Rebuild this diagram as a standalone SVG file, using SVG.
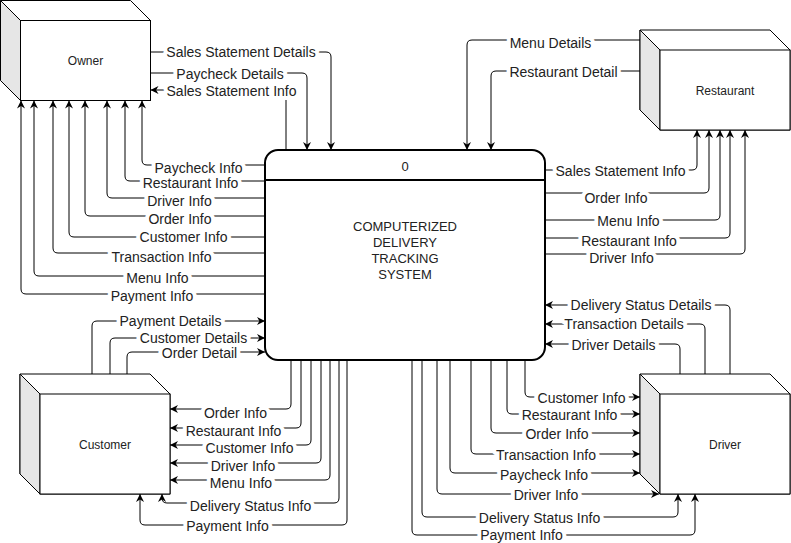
<svg xmlns="http://www.w3.org/2000/svg" width="791" height="543" viewBox="0 0 791 543">
<style>
.face{fill:#fff;stroke:#000;stroke-width:1}
.side{fill:#e6e6e6;stroke:#000;stroke-width:1}
.nl{font-family:"Liberation Sans",Arial,sans-serif;font-size:12px;fill:#222;text-anchor:middle}
.pl{font-family:"Liberation Sans",Arial,sans-serif;font-size:13px;fill:#222;text-anchor:middle}
.e{fill:none;stroke:#000;stroke-width:1;marker-end:url(#arr)}
.el{font-family:"Liberation Sans",Arial,sans-serif;font-size:14px;fill:#222;text-anchor:middle;paint-order:stroke;stroke:#fff;stroke-width:8px;stroke-linejoin:round}
</style>
<defs>
<marker id="arr" viewBox="0 0 10 10" refX="10" refY="5" markerWidth="8" markerHeight="8" markerUnits="userSpaceOnUse" orient="auto">
<path d="M0,0 L10,5 L0,10 L3,5 z" fill="#000"/>
</marker>
<g id="cube100">
<polygon class="face" points="0,0 130,0 150,20 150,100 20,100 0,80"/>
<polygon class="side" points="0,0 20,20 20,100 0,80"/>
<rect class="face" x="20" y="20" width="130" height="80"/>
</g>
<g id="cube120">
<polygon class="face" points="0,0 130,0 150,20 150,120 20,120 0,100"/>
<polygon class="side" points="0,0 20,20 20,120 0,100"/>
<rect class="face" x="20" y="20" width="130" height="100"/>
</g>
</defs>
<rect width="791" height="543" fill="#fff"/>

<g id="connectors">
<!-- Owner <-> process top -->
<path class="e" d="M150.5,52 H326 Q331,52 331,57 V150"/>
<path class="e" d="M150.5,73 H302 Q307,73 307,78 V150"/>
<path class="e" d="M286,150 V95 Q286,90 281,90 H150.5"/>
<!-- process left -> Owner bottom -->
<path class="e" d="M265,165 H147 Q142,165 142,160 V100.5"/>
<path class="e" d="M265,181 H130 Q125,181 125,176 V100.5"/>
<path class="e" d="M265,198 H112 Q107,198 107,193 V100.5"/>
<path class="e" d="M265,216 H90 Q85,216 85,211 V100.5"/>
<path class="e" d="M265,237 H74 Q69,237 69,232 V100.5"/>
<path class="e" d="M265,253 H58 Q53,253 53,248 V100.5"/>
<path class="e" d="M265,276 H39 Q34,276 34,271 V100.5"/>
<path class="e" d="M265,294 H26 Q21,294 21,289 V100.5"/>
<!-- Restaurant -> process top -->
<path class="e" d="M640,40 H472 Q467,40 467,45 V150"/>
<path class="e" d="M640,71 H496 Q491,71 491,76 V150"/>
<!-- process right -> Restaurant bottom -->
<path class="e" d="M545,170 H692 Q697,170 697,165 V130"/>
<path class="e" d="M545,193 H704 Q709,193 709,188 V130"/>
<path class="e" d="M545,220 H715 Q720,220 720,215 V130"/>
<path class="e" d="M545,238 H725 Q730,238 730,233 V130"/>
<path class="e" d="M545,254 H740 Q745,254 745,249 V130"/>
<!-- Customer -> process left -->
<path class="e" d="M92,374 V326 Q92,321 97,321 H265"/>
<path class="e" d="M110,374 V343 Q110,338 115,338 H265"/>
<path class="e" d="M127,374 V357 Q127,352 132,352 H265"/>
<!-- process bottom -> Customer -->
<path class="e" d="M291,360 V404 Q291,409 286,409 H170"/>
<path class="e" d="M301,360 V423 Q301,428 296,428 H170"/>
<path class="e" d="M311,360 V440 Q311,445 306,445 H170"/>
<path class="e" d="M321,360 V458 Q321,463 316,463 H170"/>
<path class="e" d="M330,360 V475 Q330,480 325,480 H170"/>
<path class="e" d="M339,360 V498 Q339,503 334,503 H167 Q162,503 162,498 V494"/>
<path class="e" d="M347,360 V520 Q347,525 342,525 H145 Q140,525 140,520 V494"/>
<!-- Driver -> process right -->
<path class="e" d="M730,374 V310 Q730,305 725,305 H545"/>
<path class="e" d="M705,374 V329 Q705,324 700,324 H545"/>
<path class="e" d="M680,374 V349 Q680,344 675,344 H545"/>
<!-- process bottom -> Driver -->
<path class="e" d="M525,360 V392 Q525,397 530,397 H640"/>
<path class="e" d="M507,360 V409 Q507,414 512,414 H640"/>
<path class="e" d="M491,360 V428 Q491,433 496,433 H640"/>
<path class="e" d="M471,360 V449 Q471,454 476,454 H640"/>
<path class="e" d="M450,360 V468 Q450,473 455,473 H640"/>
<path class="e" d="M437,360 V489 Q437,494 442,494 H659"/>
<path class="e" d="M422,360 V512 Q422,517 427,517 H673 Q678,517 678,512 V494"/>
<path class="e" d="M412,360 V530 Q412,535 417,535 H690 Q695,535 695,530 V494"/>

<!-- labels -->
<text class="el" x="241" y="57">Sales Statement Details</text>
<text class="el" x="230" y="79">Paycheck Details</text>
<text class="el" x="231.5" y="96">Sales Statement Info</text>

<text class="el" x="198.5" y="173">Paycheck Info</text>
<text class="el" x="190.5" y="188">Restaurant Info</text>
<text class="el" x="179.5" y="206">Driver Info</text>
<text class="el" x="180" y="224">Order Info</text>
<text class="el" x="183.5" y="242">Customer Info</text>
<text class="el" x="161.5" y="262">Transaction Info</text>
<text class="el" x="157.5" y="283">Menu Info</text>
<text class="el" x="152" y="301">Payment Info</text>

<text class="el" x="550.5" y="48">Menu Details</text>
<text class="el" x="563.5" y="77">Restaurant Detail</text>

<text class="el" x="620.5" y="176">Sales Statement Info</text>
<text class="el" x="616" y="203">Order Info</text>
<text class="el" x="628.5" y="226">Menu Info</text>
<text class="el" x="629" y="246">Restaurant Info</text>
<text class="el" x="621.5" y="263">Driver Info</text>

<text class="el" x="170.5" y="326">Payment Details</text>
<text class="el" x="193.5" y="343">Customer Details</text>
<text class="el" x="199.5" y="358">Order Detail</text>

<text class="el" x="235.5" y="418">Order Info</text>
<text class="el" x="233.5" y="436">Restaurant Info</text>
<text class="el" x="249.5" y="453">Customer Info</text>
<text class="el" x="243" y="471">Driver Info</text>
<text class="el" x="241" y="488">Menu Info</text>
<text class="el" x="250.5" y="511">Delivery Status Info</text>
<text class="el" x="227.5" y="531">Payment Info</text>

<text class="el" x="641" y="310">Delivery Status Details</text>
<text class="el" x="624" y="329">Transaction Details</text>
<text class="el" x="613.5" y="350">Driver Details</text>

<text class="el" x="581.5" y="403">Customer Info</text>
<text class="el" x="569.5" y="420">Restaurant Info</text>
<text class="el" x="557" y="439">Order Info</text>
<text class="el" x="546" y="460">Transaction Info</text>
<text class="el" x="544" y="480">Paycheck Info</text>
<text class="el" x="546" y="500">Driver Info</text>
<text class="el" x="539.5" y="523">Delivery Status Info</text>
<text class="el" x="521.5" y="540">Payment Info</text>
</g>

<g id="owner">
<use href="#cube100" x="0.5" y="0.5"/>
<text class="nl" x="85.5" y="65">Owner</text>
</g>
<g id="restaurant">
<use href="#cube100" x="640" y="30"/>
<text class="nl" x="725" y="94.5">Restaurant</text>
</g>
<g id="customer">
<use href="#cube120" x="20" y="374"/>
<text class="nl" x="105" y="449">Customer</text>
</g>
<g id="driver">
<use href="#cube120" x="640" y="374"/>
<text class="nl" x="725" y="449">Driver</text>
</g>
<g id="process">
<rect x="265" y="150" width="280" height="210" rx="13" ry="13" fill="#fff" stroke="#000" stroke-width="2"/>
<line x1="265" y1="180" x2="545" y2="180" stroke="#000" stroke-width="2"/>
<text class="pl" x="405" y="171">0</text>
<text class="pl" x="405" y="231">COMPUTERIZED</text>
<text class="pl" x="405" y="247">DELIVERY</text>
<text class="pl" x="405" y="263">TRACKING</text>
<text class="pl" x="405" y="279">SYSTEM</text>
</g>
</svg>
